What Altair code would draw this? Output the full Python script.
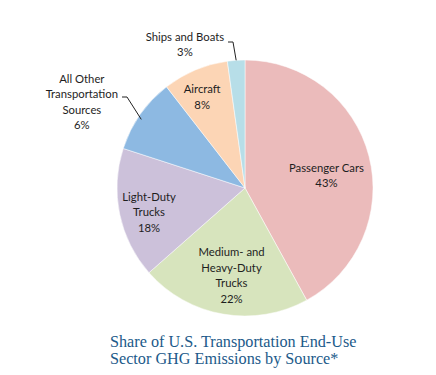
import math
import altair as alt
import pandas as pd

# ---- data ----
categories = ["Passenger Cars", "Medium- and Heavy-Duty Trucks", "Light-Duty Trucks",
              "All Other Transportation Sources", "Aircraft", "Ships and Boats"]
# slice sizes as drawn (%)
drawn_shares = [42.0, 21.5, 16.5, 9.5, 8.3, 2.2]
# percentages printed on the labels
label_pct = [43, 22, 18, 6, 8, 3]
# label text lines
label_names = ["Passenger Cars", "Medium- and\nHeavy-Duty\nTrucks", "Light-Duty\nTrucks",
               "All Other\nTransportation\nSources", "Aircraft", "Ships and Boats"]
slice_colors = ["#ebbbbb", "#d7e4bd", "#ccc1da", "#8db9e2", "#fcd5b5", "#b7dee8"]
title_lines = ["Share of U.S. Transportation End-Use", "Sector GHG Emissions by Source*"]

labels_full = [f"{n}\n{p}%" for n, p in zip(label_names, label_pct)]
df = pd.DataFrame({
    "cat": categories,
    "share": drawn_shares,
    "idx": list(range(len(categories))),
    "label": labels_full,
})

CX, CY, R = 245, 188, 128
FONT = "Lato"
LH = 15.5

base = alt.Chart(df).encode(
    theta=alt.Theta("share:Q", stack=True),
    order=alt.Order("idx:Q", sort="ascending"),
    x=alt.value(CX),
    y=alt.value(CY),
)

pie = base.mark_arc(outerRadius=R, stroke="white", strokeWidth=0.5).encode(
    color=alt.Color("cat:N", scale=alt.Scale(domain=categories, range=slice_colors), legend=None)
)

# per-label placement (radius along slice mid-angle + small nudge)
placements = [
    (82, 2, 9),
    (90, 2, 0),
    (99, 1, 5),
    (186, -11, 22),
    (100, -4, 2),
    (146, -50, 3),
]

layers = [pie]
for i, (rad, dx, dy) in enumerate(placements):
    nlines = labels_full[i].count("\n") + 1
    layers.append(
        base.mark_text(radius=rad, dx=dx, dy=dy - (nlines - 1) * LH / 2, lineBreak="\n",
                       lineHeight=LH, font=FONT, fontSize=11.3, color="#1e1e1e",
                       align="center", baseline="middle").encode(
            text=alt.condition(f"datum.idx == {i}", "label:N", alt.value(""))
        )
    )

# leader lines: end on the pie edge at the slice's mid-angle
cum = 0
mids = []
for s in drawn_shares:
    mids.append((cum + s / 2) / sum(drawn_shares) * 2 * math.pi)
    cum += s

def edge(i):
    a = mids[i]
    return CX + R * math.sin(a), CY - R * math.cos(a)

sx, sy = edge(5)
ox, oy = edge(3)
segs = pd.DataFrame({
    "x": [228, 233, 122, 127],
    "x2": [233, sx, 127, ox + 1],
    "y": [42, 42, 97, 97],
    "y2": [42, sy, 97, oy + 5],
})
leaders = alt.Chart(segs).mark_rule(color="#222222", strokeWidth=1).encode(
    x=alt.X("x:Q", scale=None), x2="x2:Q",
    y=alt.Y("y:Q", scale=None), y2="y2:Q",
)
layers.append(leaders)

title = alt.Chart(pd.DataFrame({"t": ["\n".join(title_lines)]})).mark_text(
    lineBreak="\n", align="left", baseline="alphabetic", font="Liberation Serif",
    fontSize=16.2, lineHeight=17, color="#1c5a8a",
).encode(text="t:N", x=alt.value(110), y=alt.value(347))
layers.append(title)

chart = alt.layer(*layers).properties(
    width=436,
    height=375,
    autosize=alt.AutoSizeParams(type="none"),
    padding=0,
    background="white",
).configure_view(stroke=None)

chart.save("out.html", embed_options={"renderer": "svg", "actions": False})
